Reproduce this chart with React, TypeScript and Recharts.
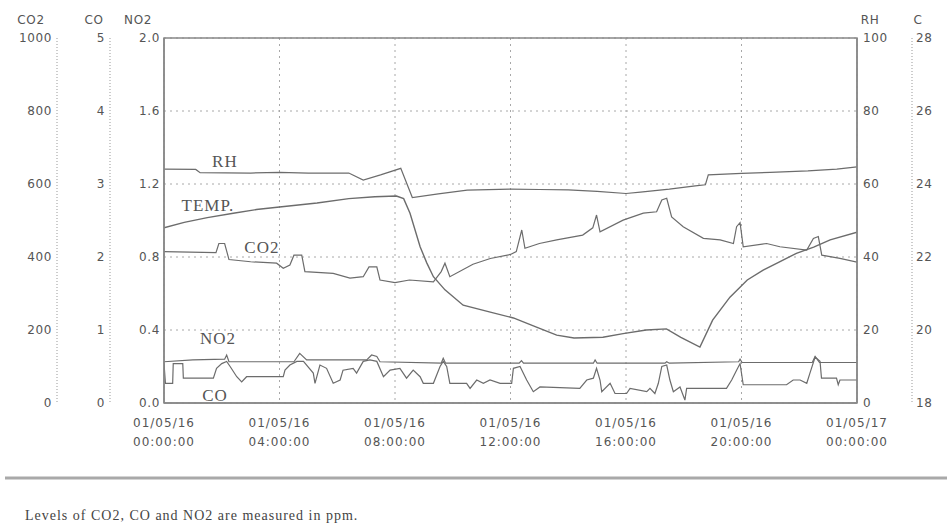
import React from 'react';
import { LineChart, Line, XAxis, YAxis, CartesianGrid, ReferenceArea, ReferenceDot } from 'recharts';

// ---- axes / ticks ----
const X_TICKS = [0, 4, 8, 12, 16, 20, 24];
const X_DATES = ['01/05/16', '01/05/16', '01/05/16', '01/05/16', '01/05/16', '01/05/16', '01/05/17'];
const X_TIMES = ['00:00:00', '04:00:00', '08:00:00', '12:00:00', '16:00:00', '20:00:00', '00:00:00'];
const CO2_TICKS = [0, 200, 400, 600, 800, 1000];
const CO_TICKS = [0, 1, 2, 3, 4, 5];
const NO2_TICKS = [0, 0.4, 0.8, 1.2, 1.6, 2.0];
const RH_TICKS = [0, 20, 40, 60, 80, 100];
const C_TICKS = [18, 20, 22, 24, 26, 28];

// ---- series: [hour, value] ----
const TEMP: [number, number][] = [
  [0, 22.8], [0.7, 22.95], [1.5, 23.08], [2.4, 23.2], [3.2, 23.3], [4, 23.37], [5.3, 23.48],
  [6.4, 23.6], [7.3, 23.65], [8.05, 23.67], [8.3, 23.6], [8.52, 23.2], [8.87, 22.28], [9.1, 21.84],
  [9.33, 21.46], [9.73, 21.1], [10.36, 20.68], [11.3, 20.49], [12.1, 20.33], [12.9, 20.08],
  [13.6, 19.86], [14.2, 19.78], [15.2, 19.8], [15.9, 19.9], [16.7, 20.0], [17.4, 20.03],
  [17.9, 19.8], [18.56, 19.53], [19.0, 20.27], [19.6, 20.9], [20.2, 21.37], [20.75, 21.64],
  [21.3, 21.86], [21.9, 22.1], [22.5, 22.27], [23.07, 22.47], [24, 22.68],
];

const RH: [number, number][] = [
  [0, 64.1], [1.1, 64.0], [1.25, 63.1], [3, 63.0], [4, 63.2], [5, 63.0], [6.4, 63.0], [6.9, 61.1],
  [7.5, 62.5], [8.2, 64.3], [8.6, 56.3], [9.5, 57.3], [10.5, 58.3], [12, 58.6], [13, 58.5],
  [14, 58.4], [15, 58.0], [16, 57.4], [16.5, 57.8], [17.5, 58.6], [18.4, 59.5], [18.75, 59.8],
  [18.85, 62.5], [20, 62.9], [21, 63.2], [22.3, 63.6], [23.3, 64.1], [24, 64.7],
];

const CO2: [number, number][] = [
  [0, 415], [1.8, 412], [1.9, 437], [2.1, 437], [2.25, 393], [3, 387], [3.9, 383], [4.13, 369],
  [4.36, 378], [4.5, 405], [4.77, 405], [4.88, 360], [5.86, 355], [6.44, 342], [6.9, 346],
  [7.1, 373], [7.37, 373], [7.48, 337], [8.0, 330], [8.5, 337], [9.33, 332], [9.6, 360],
  [9.73, 383], [9.9, 346], [10.7, 380], [11.3, 396], [12.0, 407], [12.2, 415], [12.39, 474],
  [12.5, 424], [13.0, 437], [13.6, 447], [14.5, 460], [14.85, 480], [14.98, 515], [15.1, 469],
  [15.9, 501], [16.6, 520], [17.06, 524], [17.24, 556], [17.41, 561], [17.58, 510], [17.98, 483],
  [18.68, 451], [19.26, 447], [19.72, 437], [19.83, 483], [19.95, 494], [20.06, 428], [20.87, 437],
  [21.33, 428], [22.26, 419], [22.49, 451], [22.66, 456], [22.78, 405], [23.41, 396], [24, 386],
];

const CO: [number, number][] = [
  [0, 0.54], [0.05, 0.27], [0.3, 0.27], [0.32, 0.54], [0.65, 0.54], [0.67, 0.34], [1.71, 0.34],
  [1.82, 0.475], [2.0, 0.54], [2.17, 0.57], [2.29, 0.5], [2.52, 0.36], [2.69, 0.29], [2.86, 0.36],
  [4.13, 0.36], [4.19, 0.45], [4.36, 0.52], [4.6, 0.57], [4.83, 0.57], [5.17, 0.41], [5.23, 0.27],
  [5.4, 0.52], [5.63, 0.475], [5.86, 0.27], [6.1, 0.315], [6.2, 0.45], [6.55, 0.475], [6.67, 0.41],
  [6.9, 0.57], [7.13, 0.59], [7.37, 0.57], [7.6, 0.36], [7.83, 0.45], [8.17, 0.475], [8.4, 0.34],
  [8.63, 0.45], [8.87, 0.36], [8.98, 0.27], [9.33, 0.27], [9.56, 0.5], [9.67, 0.57], [9.79, 0.5],
  [9.9, 0.27], [10.48, 0.27], [10.6, 0.2], [10.83, 0.315], [11.06, 0.27], [11.29, 0.315],
  [11.64, 0.27], [12.04, 0.27], [12.1, 0.475], [12.33, 0.5], [12.56, 0.315], [12.79, 0.155],
  [13.02, 0.22], [14.4, 0.2], [14.64, 0.315], [14.87, 0.34], [14.98, 0.475], [15.1, 0.315],
  [15.16, 0.155], [15.45, 0.27], [15.62, 0.13], [16.02, 0.13], [16.14, 0.2], [16.72, 0.155],
  [16.83, 0.2], [17.0, 0.13], [17.12, 0.27], [17.24, 0.5], [17.41, 0.52], [17.52, 0.315],
  [17.64, 0.155], [17.87, 0.22], [18.04, 0.04], [18.1, 0.2], [19.48, 0.2], [19.66, 0.315],
  [19.83, 0.45], [19.95, 0.54], [20.06, 0.25], [21.56, 0.25], [21.79, 0.315], [22.03, 0.315],
  [22.26, 0.27], [22.37, 0.41], [22.55, 0.63], [22.72, 0.57], [22.77, 0.34], [23.29, 0.34],
  [23.35, 0.25], [23.41, 0.315], [24, 0.315],
];

const NO2: [number, number][] = [
  [0, 0.226], [1, 0.236], [2.1, 0.24], [2.17, 0.263], [2.25, 0.226], [4.5, 0.226], [4.7, 0.272],
  [4.94, 0.236], [7.02, 0.236], [7.19, 0.263], [7.37, 0.255], [7.48, 0.226], [9.6, 0.218],
  [9.67, 0.245], [9.75, 0.218], [12.3, 0.218], [12.38, 0.232], [12.45, 0.218], [14.87, 0.218],
  [14.93, 0.236], [15.0, 0.218], [17.35, 0.218], [17.41, 0.226], [17.5, 0.218], [19.9, 0.226],
  [19.95, 0.24], [20.02, 0.222], [22.45, 0.222], [22.55, 0.255], [22.7, 0.222], [24, 0.222],
];

// axis ids (named so both declaration order and id order put the outer axes first)
const ID_CO2 = 'c_co2';
const ID_CO = 'b_co';
const ID_NO2 = 'a_no2';
const ID_C = 'b_c';
const ID_RH = 'a_rh';

// in-plot series tags (data coordinates)
const TAG_TEXT = ['RH', 'TEMP.', 'CO2', 'NO2', 'CO'];
const TAG_T = [2.11, 1.52, 3.39, 1.87, 1.77];
const TAG_V = [66.3, 23.42, 427, 0.356, 0.11];
const TAG_AXIS = [ID_RH, ID_C, ID_CO2, ID_NO2, ID_CO];

const HEADERS = ['CO2', 'CO', 'NO2', 'RH', 'C'];
const HEADER_X = [31, 94, 138, 870, 918];

const rows = (pts: [number, number][]) => pts.map(([t, v]) => ({ t, v }));

const LINE = '#6c6c6c';
const TXT = '#555';
const AXIS_FONT = { fontSize: 12, fill: TXT, fontFamily: 'DejaVu Sans', letterSpacing: 0.6 };

const XTick = (props: any) => {
  const { x, y, payload } = props;
  const i = X_TICKS.indexOf(payload.value);
  return (
    <text x={x} y={y} textAnchor="middle" fontSize={12} fill={TXT} fontFamily="DejaVu Sans" letterSpacing={1}>
      <tspan x={x} dy={24}>{X_DATES[i]}</tspan>
      <tspan x={x} dy={19}>{X_TIMES[i]}</tspan>
    </text>
  );
};

const makeTag = (text: string) => (p: any) => {
  const vb = p.viewBox || {};
  const cx = (vb.x || 0) + (vb.width || 0) / 2;
  const cy = (vb.y || 0) + (vb.height || 0) / 2;
  return (
    <text x={cx} y={cy} dy="0.35em" textAnchor="middle" fontSize={17} fill={TXT}
      fontFamily="Liberation Serif" letterSpacing={1}>
      {text}
    </text>
  );
};

const headerStyle = (left: number): React.CSSProperties => ({
  position: 'absolute', top: 13, left, width: 40, marginLeft: -20, textAlign: 'center',
  fontFamily: 'DejaVu Sans', fontSize: 12, letterSpacing: 0.6, color: TXT, lineHeight: '14px',
});

export default function App() {
  return (
    <div style={{ position: 'absolute', left: 0, top: 0, width: 947, height: 527, background: '#fff', overflow: 'hidden' }}>
      <LineChart width={940} height={450} margin={{ top: 38, right: 0, bottom: 2, left: 0 }}>
        <CartesianGrid yAxisId={ID_NO2} stroke="#a8a8a8" strokeDasharray="2 4" />
        <XAxis dataKey="t" type="number" domain={[0, 24]} ticks={X_TICKS} interval={0}
          allowDataOverflow height={45} tickLine={false} tickSize={0} tickMargin={0}
          axisLine={{ stroke: '#888', strokeWidth: 1.5 }} tick={<XTick />} />
        <YAxis yAxisId={ID_CO2} orientation="left" width={57} domain={[0, 1000]} ticks={CO2_TICKS}
          interval={0} tickLine={false} tickSize={0} tickMargin={5}
          axisLine={{ stroke: '#999', strokeDasharray: '1 2' }} tick={AXIS_FONT} />
        <YAxis yAxisId={ID_CO} orientation="left" width={53} domain={[0, 5]} ticks={CO_TICKS}
          interval={0} tickLine={false} tickSize={0} tickMargin={5}
          axisLine={{ stroke: '#999', strokeDasharray: '1 2' }} tick={AXIS_FONT} />
        <YAxis yAxisId={ID_NO2} orientation="left" width={54} domain={[0, 2]} ticks={NO2_TICKS}
          interval={0} tickFormatter={(v: number) => v.toFixed(1)} tickLine={false} tickSize={0}
          tickMargin={4} axisLine={{ stroke: '#888', strokeWidth: 1.5 }} tick={AXIS_FONT} />
        <YAxis yAxisId={ID_C} orientation="right" width={28} domain={[18, 28]} ticks={C_TICKS}
          interval={0} tickLine={false} tickSize={0} tickMargin={4}
          axisLine={{ stroke: '#999', strokeDasharray: '1 2' }} tick={{ ...AXIS_FONT, textAnchor: 'start' }} />
        <YAxis yAxisId={ID_RH} orientation="right" width={55} domain={[0, 100]} ticks={RH_TICKS}
          interval={0} tickLine={false} tickSize={0} tickMargin={6}
          axisLine={{ stroke: '#888', strokeWidth: 1.5 }} tick={{ ...AXIS_FONT, textAnchor: 'start' }} />

        <ReferenceArea yAxisId={ID_NO2} x1={0} x2={24} y1={0} y2={2} fill="none" fillOpacity={0}
          stroke="#888" strokeWidth={1.5} />

        <Line yAxisId={ID_RH} data={rows(RH)} dataKey="v" type="linear" stroke={LINE} strokeWidth={1.2} dot={false} isAnimationActive={false} />
        <Line yAxisId={ID_C} data={rows(TEMP)} dataKey="v" type="linear" stroke={LINE} strokeWidth={1.4} dot={false} isAnimationActive={false} />
        <Line yAxisId={ID_CO2} data={rows(CO2)} dataKey="v" type="linear" stroke={LINE} strokeWidth={1.2} dot={false} isAnimationActive={false} />
        <Line yAxisId={ID_NO2} data={rows(NO2)} dataKey="v" type="linear" stroke={LINE} strokeWidth={1.2} dot={false} isAnimationActive={false} />
        <Line yAxisId={ID_CO} data={rows(CO)} dataKey="v" type="linear" stroke={LINE} strokeWidth={1.2} dot={false} isAnimationActive={false} />

        {TAG_TEXT.map((txt, i) => (
          <ReferenceDot key={txt} yAxisId={TAG_AXIS[i]} x={TAG_T[i]} y={TAG_V[i]} r={0}
            fill="none" stroke="none" label={{ content: makeTag(txt) }} />
        ))}
      </LineChart>

      {HEADERS.map((h, i) => (
        <div key={h} style={headerStyle(HEADER_X[i])}>{h}</div>
      ))}

      <div style={{ position: 'absolute', left: 5, top: 476, width: 942, height: 2, background: '#a9a9a9', borderTop: '1px solid #d4d4d4', borderBottom: '1px solid #d4d4d4' }} />
      <div style={{ position: 'absolute', left: 25, top: 507, fontFamily: 'Liberation Serif', fontSize: 14, letterSpacing: 1, color: '#444', lineHeight: '18px', whiteSpace: 'nowrap' }}>
        Levels of CO2, CO and NO2 are measured in ppm.
      </div>
    </div>
  );
}
